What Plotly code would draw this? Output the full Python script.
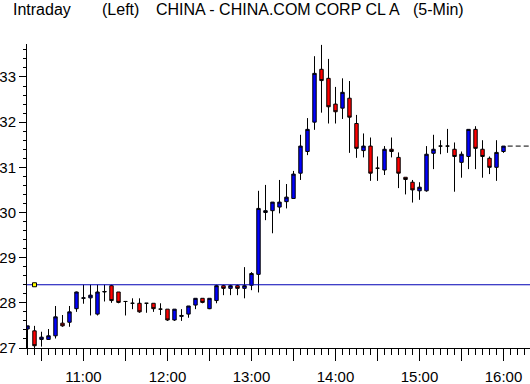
import plotly.graph_objects as go

# ---- data ----
times = ["10:20", "10:25", "10:30", "10:35", "10:40", "10:45", "10:50", "10:55",
         "11:00", "11:05", "11:10", "11:15", "11:20", "11:25", "11:30", "11:35", "11:40", "11:45", "11:50", "11:55",
         "12:00", "12:05", "12:10", "12:15", "12:20", "12:25", "12:30", "12:35", "12:40", "12:45", "12:50", "12:55",
         "13:00", "13:05", "13:10", "13:15", "13:20", "13:25", "13:30", "13:35", "13:40", "13:45", "13:50", "13:55",
         "14:00", "14:05", "14:10", "14:15", "14:20", "14:25", "14:30", "14:35", "14:40", "14:45", "14:50", "14:55",
         "15:00", "15:05", "15:10", "15:15", "15:20", "15:25", "15:30", "15:35", "15:40", "15:45", "15:50", "15:55",
         "16:00"]

opens = [27.42, 27.38, 27.19, 27.19, 27.27, 27.55, 27.57, 27.87,
         28.10, 28.11, 27.75, 28.24, 28.38, 28.24, 28.03, 27.99, 27.99, 27.99, 27.99, 27.86,
         27.86, 27.62, 27.70, 27.75, 27.95, 28.10, 27.87, 28.05, 28.38, 28.32, 28.38, 28.32,
         28.39, 28.63, 30.00, 30.04, 30.12, 30.24, 30.31, 30.87, 31.35, 32.00, 33.17, 32.97,
         32.40, 32.31, 32.53, 31.97, 31.37, 31.47, 30.98, 30.94, 31.40, 31.22, 30.78, 30.67,
         30.48, 30.48, 31.31, 31.47, 31.47, 31.40, 31.11, 31.24, 31.84, 31.40, 31.20, 31.00,
         31.35]
highs = [27.49, 27.49, 27.36, 27.42, 27.93, 27.73, 27.93, 28.25,
         28.40, 28.40, 28.40, 28.40, 28.40, 28.24, 28.04, 28.10, 28.10, 27.99, 27.99, 27.99,
         27.86, 27.86, 27.86, 27.93, 28.10, 28.10, 28.10, 28.40, 28.40, 28.40, 28.40, 28.79,
         28.68, 30.48, 30.61, 30.23, 30.72, 30.63, 30.92, 31.72, 32.09, 33.46, 33.71, 33.40,
         32.78, 32.97, 32.91, 32.16, 31.75, 31.66, 31.24, 31.47, 31.66, 31.33, 30.78, 30.72,
         30.67, 31.47, 31.72, 31.60, 31.85, 31.55, 31.35, 31.84, 31.91, 31.60, 31.24, 31.60,
         31.47]
lows = [26.98, 26.98, 27.03, 27.18, 27.21, 27.47, 27.47, 27.80,
        27.98, 27.72, 27.72, 28.03, 28.00, 27.99, 27.72, 27.86, 27.78, 27.78, 27.80, 27.73,
        27.60, 27.60, 27.60, 27.67, 27.86, 27.99, 27.86, 27.99, 28.17, 28.17, 28.17, 28.10,
        28.28, 28.23, 29.83, 29.54, 29.98, 30.09, 30.31, 30.72, 31.27, 31.83, 32.21, 31.97,
        31.97, 32.07, 31.32, 31.21, 31.22, 30.70, 30.70, 30.83, 31.22, 30.54, 30.40, 30.22,
        30.28, 30.46, 30.96, 31.29, 31.32, 30.46, 30.77, 30.96, 30.96, 30.77, 30.85, 30.70,
        31.32]
closes = [27.49, 27.05, 27.24, 27.27, 27.69, 27.49, 27.80, 28.24,
          28.11, 28.17, 28.24, 28.25, 28.05, 28.01, 28.03, 27.99, 27.80, 27.99, 27.87, 27.86,
          27.62, 27.86, 27.72, 27.93, 28.10, 28.01, 28.10, 28.38, 28.32, 28.38, 28.32, 28.38,
          28.65, 30.09, 30.04, 30.23, 30.23, 30.34, 30.85, 31.47, 31.84, 33.08, 32.92, 32.34,
          32.23, 32.66, 32.11, 31.42, 31.47, 30.87, 30.98, 31.40, 31.35, 30.87, 30.73, 30.50,
          30.56, 31.29, 31.40, 31.47, 31.47, 31.24, 31.29, 31.84, 31.42, 31.24, 31.00, 31.33,
          31.47]

prev_close = 28.40
y_ticks = [27, 28, 29, 30, 31, 32, 33]
x_tick_times = ["10:30", "11:00", "11:30", "12:00", "12:30", "13:00", "13:30",
                "14:00", "14:30", "15:00", "15:30", "16:00"]
x_tick_labels = ["", "11:00", "", "12:00", "", "13:00", "",
                 "14:00", "", "15:00", "", "16:00"]

DAY = "2000-01-03 "
xs = [DAY + t for t in times]
# half-pixel offset so 1px lines land on whole pixels
x_start = DAY + "10:19:38.6"
x_end = DAY + "16:18:55.7"

FONT = "Liberation Sans, Arial, sans-serif"

fig = go.Figure()

# previous-close reference line
fig.add_trace(go.Scatter(
    x=[x_start, x_end], y=[prev_close, prev_close], mode="lines",
    line=dict(color="#0000b4", width=1), hoverinfo="skip"))

fig.add_trace(go.Candlestick(
    x=xs, open=opens, high=highs, low=lows, close=closes,
    increasing=dict(line=dict(color="black", width=1), fillcolor="#0000ff"),
    decreasing=dict(line=dict(color="black", width=1), fillcolor="#ff0000"),
    whiskerwidth=0))

# last price dashed extension
fig.add_trace(go.Scatter(
    x=[DAY + "16:03", x_end], y=[closes[-1], closes[-1]], mode="lines",
    line=dict(color="black", width=1, dash="5px,3px"), hoverinfo="skip"))

# previous close marker
fig.add_trace(go.Scatter(
    x=[xs[1]], y=[prev_close], mode="markers",
    marker=dict(symbol="square", size=4, color="#ffff00",
                line=dict(color="black", width=1)), hoverinfo="skip"))

fig.update_layout(
    width=530, height=384,
    margin=dict(l=27, r=0, t=44, b=36, autoexpand=False),
    paper_bgcolor="white", plot_bgcolor="white",
    showlegend=False,
    font=dict(family=FONT, size=14, color="black"),
    xaxis=dict(
        type="date", range=[x_start, x_end],
        tickmode="array", tickvals=[DAY + t for t in x_tick_times], ticktext=x_tick_labels,
        ticks="outside", ticklen=12, tickwidth=1, tickcolor="black",
        showline=True, linecolor="black", linewidth=1,
        showgrid=False, zeroline=False,
        rangeslider=dict(visible=False),
        ticklabelstandoff=3,
        tickfont=dict(size=15),
        minor=dict(ticks="outside", ticklen=6, tickwidth=1, tickcolor="black",
                   dtick=300000, tick0=DAY + "10:20", showgrid=False),
    ),
    yaxis=dict(
        range=[27, 33.73],
        tickmode="array", tickvals=y_ticks, ticktext=[str(v) for v in y_ticks],
        ticks="outside", ticklen=7, tickwidth=1, tickcolor="black",
        showline=True, linecolor="black", linewidth=1,
        showgrid=False, zeroline=False,
        tickfont=dict(size=15),
        minor=dict(ticks="outside", ticklen=3, tickwidth=1, tickcolor="black",
                   dtick=0.2, tick0=27, showgrid=False),
    ),
)

def px_x(p):
    return (p - 27) / 503.0

title_y = (348 - 10) / 304.0
for txt, px in [("Intraday", 11), ("(Left)", 100),
                ("CHINA - CHINA.COM CORP CL A", 154), ("(5-Min)", 411)]:
    fig.add_annotation(text=txt, xref="paper", yref="paper", x=px_x(px), y=title_y,
                       xanchor="left", yanchor="middle", showarrow=False,
                       font=dict(family=FONT, size=16, color="black"))

fig.write_html("out.html", config={"displayModeBar": False},
               post_script="document.body.style.margin='0px';")
